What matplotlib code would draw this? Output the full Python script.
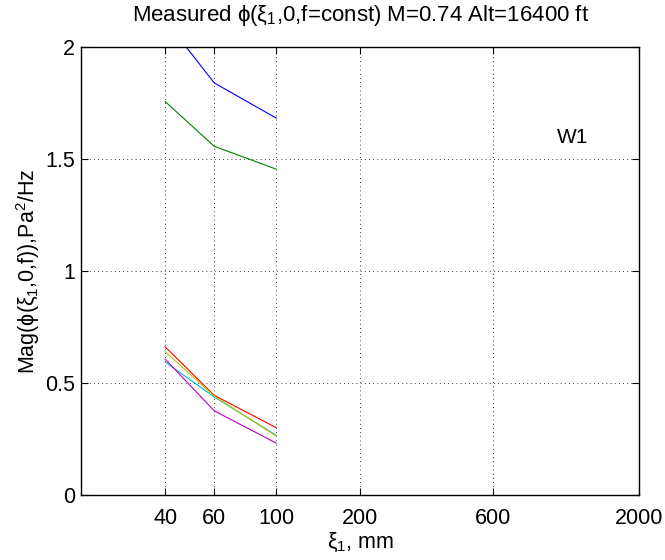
import matplotlib
matplotlib.use('Agg')
import matplotlib.pyplot as plt
from matplotlib.ticker import FixedLocator, FixedFormatter, NullLocator

plt.rcParams['font.family'] = ['Liberation Sans', 'DejaVu Sans']
plt.rcParams['mathtext.fontset'] = 'custom'
plt.rcParams['mathtext.rm'] = 'Liberation Sans'
plt.rcParams['mathtext.it'] = 'Liberation Sans'
plt.rcParams['mathtext.sf'] = 'Liberation Sans'

# separation distances, mm
xi = [40, 60, 100]

# measured magnitudes, Pa^2/Hz
blue = [2.12, 1.84, 1.683]
green = [1.757, 1.557, 1.455]
red = [0.662, 0.445, 0.301]
cyan = [0.594, 0.438, 0.267]
magenta = [0.607, 0.376, 0.232]
yellow = [0.640, 0.442, 0.263]

series = [
    (blue, 'b'),
    (green, (0, 0.5, 0)),
    (red, 'r'),
    (cyan, (0, 0.75, 0.75)),
    (magenta, (0.75, 0, 0.75)),
    (yellow, (0.75, 0.75, 0)),
]

xticks = [40, 60, 100, 200, 600, 2000]
xticklabels = ['40', '60', '100', '200', '600', '2000']
yticks = [0, 0.5, 1, 1.5, 2]
yticklabels = ['0', '0.5', '1', '1.5', '2']

fig = plt.figure(figsize=(6.65, 5.6), dpi=100)
ax = fig.add_axes([0.122, 0.116, 0.839, 0.800])

for vals, col in series:
    ax.plot(xi, vals, color=col, linewidth=0.8)

ax.set_xscale('log')
ax.set_xlim(20, 2000)
ax.set_ylim(0, 2)
ax.xaxis.set_major_locator(FixedLocator(xticks))
ax.xaxis.set_major_formatter(FixedFormatter(xticklabels))
ax.xaxis.set_minor_locator(NullLocator())
ax.set_yticks(yticks)
ax.set_yticklabels(yticklabels)

ax.grid(True, color='k', linestyle=(0, (1, 4)), linewidth=0.6)
ax.tick_params(direction='in', top=True, right=True, labelsize=15.5,
               length=5, width=0.8)
ax.tick_params(axis='x', pad=9)
ax.tick_params(axis='y', pad=4.5)
for sp in ax.spines.values():
    sp.set_linewidth(1.0)

ax.text(0.88, 0.797, 'W1', transform=ax.transAxes, fontsize=15,
        ha='center', va='center')

ax.set_title(r'Measured $\phi$($\xi_1$,0,f=const) M=0.74 Alt=16400 ft',
             fontsize=16, pad=19)
ax.set_xlabel(r'$\xi_1$, mm', fontsize=15.5, labelpad=2)
ax.set_ylabel(r'Mag($\phi$($\xi_1$,0,f)),Pa$^2$/Hz', fontsize=15.5, labelpad=2)

fig.savefig('out.png', dpi=100)
